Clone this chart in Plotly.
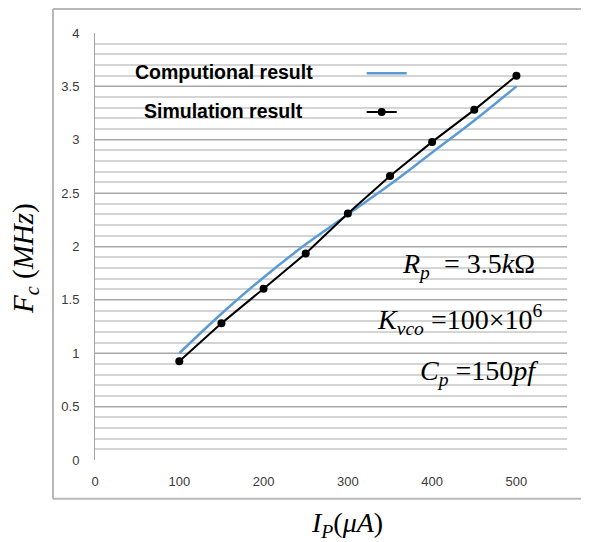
import plotly.graph_objects as go

# 전류 (μA)
ip_sim = [100, 150, 200, 250, 300, 350, 400, 450, 500]
fc_sim = [0.925, 1.28, 1.605, 1.935, 2.31, 2.66, 2.98, 3.28, 3.60]

ip_calc = [100, 150, 200, 250, 300, 350, 400, 450, 500]
fc_calc = [1.0, 1.37, 1.71, 2.02, 2.30, 2.58, 2.88, 3.18, 3.50]

x_ticks = [0, 100, 200, 300, 400, 500]
y_ticks = [0, 0.5, 1, 1.5, 2, 2.5, 3, 3.5, 4]

BLUE = '#5B9BD5'
TICK_FONT = dict(family='Liberation Sans, Arial', size=13, color='#3a3a3a')
SERIF = 'Liberation Serif, Times New Roman, serif'

fig = go.Figure()
fig.add_trace(go.Scatter(
    x=ip_calc, y=fc_calc, mode='lines', name=' ',
    line=dict(color=BLUE, width=2.5, shape='spline'),
    legend='legend',
))
fig.add_trace(go.Scatter(
    x=ip_sim, y=fc_sim, mode='lines+markers', name=' ',
    line=dict(color='black', width=2),
    marker=dict(color='black', size=8),
    legend='legend2',
))

# 범례 텍스트 (기호 왼쪽에 글자)
legend_font = dict(family='Liberation Sans, Arial', size=19.5, color='black')
fig.add_annotation(x=0.08, y=0.909, xref='paper', yref='paper', text='<b>Computional result</b>',
                   showarrow=False, xanchor='left', yanchor='middle', font=legend_font)
fig.add_annotation(x=0.099, y=0.818, xref='paper', yref='paper', text='<b>Simulation result</b>',
                   showarrow=False, xanchor='left', yanchor='middle', font=legend_font)

# 파라미터 표기
param_font = dict(family=SERIF, size=28, color='black')
fig.add_annotation(x=0.792, y=0.455, xref='paper', yref='paper',
                   text='<i>R<sub>p</sub></i>  = 3.5<i>k</i>Ω',
                   showarrow=False, xanchor='center', yanchor='middle', font=param_font)
fig.add_annotation(x=0.773, y=0.33, xref='paper', yref='paper',
                   text='<i>K<sub>vco</sub></i> =100×10<sup>6</sup>',
                   showarrow=False, xanchor='center', yanchor='middle', font=param_font)
fig.add_annotation(x=0.813, y=0.205, xref='paper', yref='paper',
                   text='<i>C<sub>p</sub></i> =150<i>pf</i>',
                   showarrow=False, xanchor='center', yanchor='middle', font=param_font)

# 축 제목
fig.add_annotation(x=-0.148, y=0.471, xref='paper', yref='paper',
                   text='<i>F<sub>c</sub></i> (<i>MHz</i>)', textangle=-90,
                   showarrow=False, xanchor='center', yanchor='middle',
                   font=dict(family=SERIF, size=29, color='black'))
fig.add_annotation(x=0.534, y=-0.151, xref='paper', yref='paper',
                   text='<i>I<sub>P</sub></i>(<i>μA</i>)',
                   showarrow=False, xanchor='center', yanchor='middle',
                   font=dict(family=SERIF, size=28, color='black'))

# 바깥 테두리
border = dict(color='#b8b8b8', width=2)
fig.add_shape(type='line', xref='paper', yref='paper', x0=-0.089, x1=-0.089, y0=-0.091, y1=1.056, line=border)
fig.add_shape(type='line', xref='paper', yref='paper', x0=-0.089, x1=1.1, y0=1.056, y1=1.056, line=border)
fig.add_shape(type='line', xref='paper', yref='paper', x0=-0.089, x1=1.1, y0=-0.091, y1=-0.091, line=border)

# 페이지 여백(8px)을 감안한 크기
fig.update_layout(
    width=581, height=534,
    margin=dict(l=87, r=22, t=25, b=82),
    plot_bgcolor='white', paper_bgcolor='white',
    showlegend=True,
    legend=dict(x=0.565, y=0.906, xanchor='left', yanchor='middle',
                bgcolor='rgba(0,0,0,0)', font=dict(size=12), itemwidth=40),
    legend2=dict(x=0.565, y=0.815, xanchor='left', yanchor='middle',
                 bgcolor='rgba(0,0,0,0)', font=dict(size=12), itemwidth=30),
    xaxis=dict(range=[0, 560], tickvals=x_ticks, showgrid=False, zeroline=False,
               showline=False, tickfont=TICK_FONT, ticks='', ticklabelstandoff=12),
    yaxis=dict(range=[0, 4], tickvals=y_ticks, showgrid=True, gridcolor='#a6a6a6',
               gridwidth=1, zeroline=False, showline=True, linecolor='#a6a6a6',
               linewidth=1, tickfont=TICK_FONT, ticks='', ticklabelstandoff=12,
               minor=dict(dtick=0.1, showgrid=True, gridcolor='#d4d4d4', gridwidth=1.5)),
)

fig.write_html('out.html')
